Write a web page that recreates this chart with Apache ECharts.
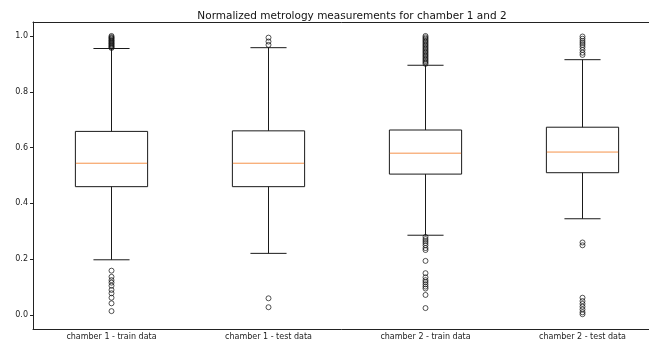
<!DOCTYPE html>
<html>
<head>
<meta charset="utf-8">
<script src="https://cdn.jsdelivr.net/npm/echarts@6/dist/echarts.min.js"></script>
<style>html,body{margin:0;padding:0;background:#fff;}#c{width:649px;height:341px;}</style>
</head>
<body>
<div id="c"></div>
<script>
const categories = ['chamber 1 - train data', 'chamber 1 - test data', 'chamber 2 - train data', 'chamber 2 - test data'];
// [lower whisker, Q1, median, Q3, upper whisker]
const boxStats = [
  [0.198, 0.460, 0.544, 0.658, 0.955],
  [0.221, 0.460, 0.544, 0.660, 0.958],
  [0.286, 0.505, 0.580, 0.663, 0.895],
  [0.345, 0.510, 0.584, 0.673, 0.915]
];
const outliers1 = [0.957, 0.96, 0.963, 0.966, 0.97, 0.973, 0.976, 0.98, 0.983, 0.986, 0.99, 0.993, 0.996, 1.0,
  0.159, 0.137, 0.125, 0.116, 0.105, 0.090, 0.078, 0.062, 0.042, 0.014];
const outliers2 = [0.994, 0.980, 0.968, 0.060, 0.028];
const outliers3 = [0.90, 0.905, 0.91, 0.915, 0.92, 0.925, 0.93, 0.935, 0.94, 0.945, 0.95, 0.955, 0.96, 0.965, 0.97, 0.975, 0.98, 0.985, 0.99, 0.995, 1.0,
  0.28, 0.272, 0.265, 0.258, 0.250, 0.240, 0.233, 0.194, 0.150, 0.135, 0.125, 0.118, 0.110, 0.102, 0.095, 0.072, 0.025];
const outliers4 = [0.998, 0.99, 0.982, 0.975, 0.968, 0.96, 0.95, 0.94, 0.932,
  0.26, 0.25, 0.062, 0.05, 0.04, 0.03, 0.02, 0.01, 0.003];
const yTicks = [0, 0.2, 0.4, 0.6, 0.8, 1.0];
const yMin = -0.05, yMax = 1.05;

const outlierGroups = [outliers1, outliers2, outliers3, outliers4];
const outlierData = [];
outlierGroups.forEach((g, i) => g.forEach(v => outlierData.push([i, v])));
const boxData = boxStats.map((s, i) => [i].concat(s));

const LINE = '#1a1a1a';
const MED = '#f5924a';

const chart = echarts.init(document.getElementById('c'));
chart.setOption({
  animation: false,
  backgroundColor: '#fff',
  title: {
    text: 'Normalized metrology measurements for chamber 1 and 2',
    left: 347, textAlign: 'center', top: 6,
    textStyle: { fontFamily: 'DejaVu Sans', fontSize: 10.5, fontWeight: 'normal', color: '#111' }
  },
  grid: { left: 33, top: 22, width: 628, height: 307, outerBoundsMode: 'none', containLabel: false,
    show: false },
  xAxis: [{
    type: 'category', data: categories, boundaryGap: true, position: 'bottom',
    axisLine: { onZero: false, lineStyle: { color: '#222' } },
    axisTick: { alignWithLabel: true, length: 3, lineStyle: { color: '#222' } },
    axisLabel: { fontFamily: 'DejaVu Sans', fontSize: 8, color: '#222', margin: 4, interval: 0 },
    splitLine: { show: false }
  }, {
    type: 'category', data: categories, position: 'top',
    axisLine: { onZero: false, lineStyle: { color: '#222' } },
    axisTick: { show: false }, axisLabel: { show: false }, splitLine: { show: false }
  }],
  yAxis: {
    type: 'value', min: yMin, max: yMax,
    axisLine: { show: true, onZero: false, lineStyle: { color: '#222' } },
    axisTick: { show: true, length: 3, lineStyle: { color: '#222' }, customValues: yTicks },
    axisLabel: { fontFamily: 'DejaVu Sans', fontSize: 8, color: '#222', margin: 5, customValues: yTicks,
      formatter: v => v.toFixed(1) },
    splitLine: { show: false }
  },
  series: [
    {
      type: 'custom',
      data: boxData,
      encode: { x: 0, y: [1, 2, 3, 4, 5] },
      renderItem: function (params, api) {
        const x = api.value(0);
        const lo = api.coord([x, api.value(1)]);
        const q1 = api.coord([x, api.value(2)]);
        const md = api.coord([x, api.value(3)]);
        const q3 = api.coord([x, api.value(4)]);
        const hi = api.coord([x, api.value(5)]);
        const bw = api.size([1, 0])[0] * 0.46;
        const cw = bw / 2;
        const cx = lo[0];
        const ls = { stroke: LINE, lineWidth: 1, fill: null };
        return {
          type: 'group',
          children: [
            { type: 'rect', shape: { x: cx - bw / 2, y: q3[1], width: bw, height: q1[1] - q3[1] }, style: { stroke: LINE, lineWidth: 1, fill: 'rgba(0,0,0,0)' } },
            { type: 'line', shape: { x1: cx, y1: q3[1], x2: cx, y2: hi[1] }, style: ls },
            { type: 'line', shape: { x1: cx, y1: q1[1], x2: cx, y2: lo[1] }, style: ls },
            { type: 'line', shape: { x1: cx - cw / 2, y1: hi[1], x2: cx + cw / 2, y2: hi[1] }, style: ls },
            { type: 'line', shape: { x1: cx - cw / 2, y1: lo[1], x2: cx + cw / 2, y2: lo[1] }, style: ls },
            { type: 'line', shape: { x1: cx - bw / 2 + 0.5, y1: md[1], x2: cx + bw / 2 - 0.5, y2: md[1] }, style: { stroke: MED, lineWidth: 1 } }
          ]
        };
      },
      z: 2
    },
    {
      type: 'scatter',
      data: outlierData,
      symbol: 'circle',
      symbolSize: 5,
      itemStyle: { color: 'rgba(0,0,0,0)', borderColor: '#111', borderWidth: 0.9 },
      z: 3
    }
  ]
});
</script>
</body>
</html>
